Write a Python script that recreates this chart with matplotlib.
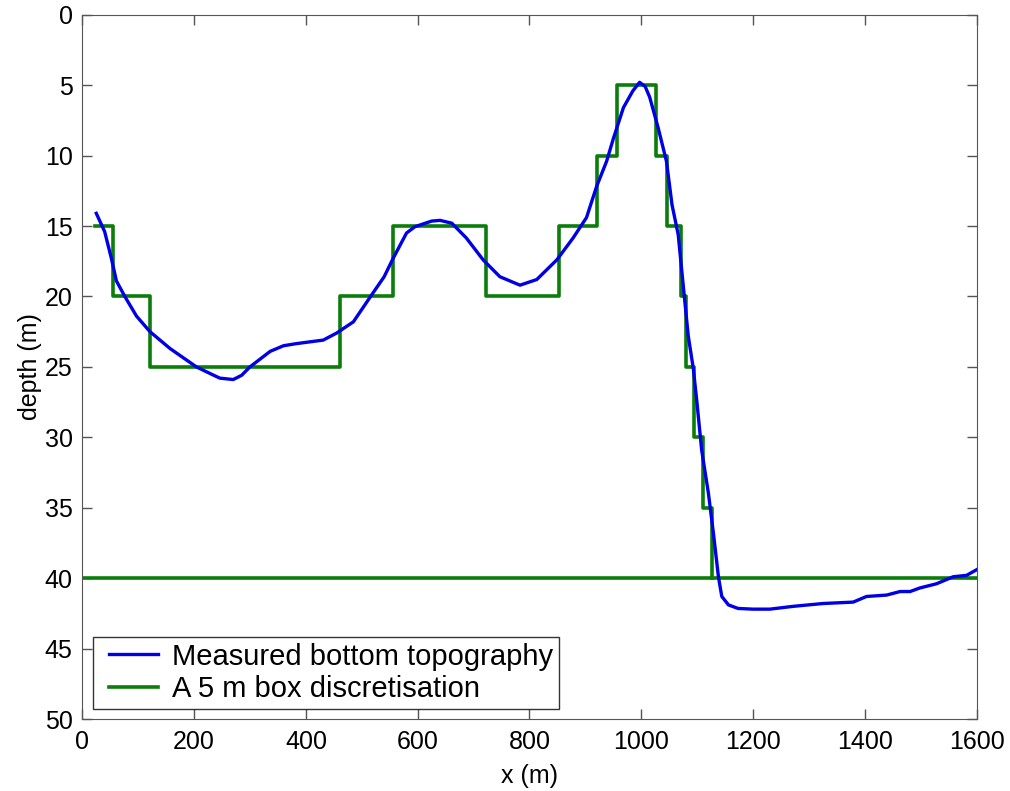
import numpy as np
import matplotlib
matplotlib.use("Agg")
from matplotlib import pyplot as plt
from matplotlib.legend_handler import HandlerLine2D

plt.rcParams['font.family'] = ['Liberation Sans', 'DejaVu Sans']

# measured bottom topography (x in m, depth in m)
topo_x = [25, 40, 52, 61, 76, 97, 121, 157, 204, 230, 246, 270, 285, 300, 336, 360,
          383, 431, 455, 485, 514, 540, 556, 580, 595, 610, 625, 640, 661, 687,
          717, 747, 783, 813, 849, 878, 902, 920, 938, 950, 968, 985, 997, 1007,
          1015, 1030, 1045, 1055, 1066, 1075, 1084, 1093, 1099, 1108, 1120, 1129,
          1138, 1144, 1156, 1173, 1200, 1230, 1272, 1325, 1379, 1403, 1439, 1463,
          1481, 1498, 1528, 1558, 1582, 1600]
topo_d = [14.1, 15.4, 17.3, 18.9, 20.0, 21.4, 22.5, 23.7, 25.0, 25.5, 25.8, 25.9,
          25.6, 25.0, 23.9, 23.5, 23.35, 23.1, 22.6, 21.8, 20.1, 18.6, 17.3, 15.5,
          15.05, 14.85, 14.65, 14.6, 14.8, 15.85, 17.4, 18.6, 19.2, 18.8, 17.4,
          15.85, 14.4, 12.2, 10.4, 8.8, 6.6, 5.4, 4.8, 5.1, 5.85, 8.0, 10.4, 13.5,
          15.6, 19.2, 22.8, 25.1, 27.3, 30.9, 33.95, 36.8, 39.9, 41.3, 41.9, 42.15,
          42.2, 42.2, 42.0, 41.8, 41.7, 41.3, 41.2, 40.95, 40.95, 40.7, 40.4, 39.9,
          39.8, 39.4]

# 5 m box discretisation: step edges and levels
box_edges = [22, 55, 121, 461, 555, 722, 853, 920, 957, 1026, 1046, 1071, 1080,
             1095, 1111, 1127]
box_levels = [15, 20, 25, 20, 15, 20, 15, 10, 5, 10, 15, 20, 25, 30, 35, 40]
bottom_x = [0, 1600]
bottom_d = [40, 40]

blue = '#0000e6'
green = '#0a7d0a'

fig = plt.figure(figsize=(10.1, 7.91), dpi=100)
ax = fig.add_axes([0.0815, 0.091, 0.8855, 0.8904])

l1, = ax.plot(topo_x, topo_d, color=blue, lw=2.4, label='Measured bottom topography',
              zorder=3)
l2, = ax.step(box_edges, box_levels, where='post', color=green, lw=2.6,
              label='A 5 m box discretisation', zorder=2)
ax.plot(bottom_x, bottom_d, color=green, lw=2.6, zorder=2)

ax.set_xlim(0, 1600)
ax.set_ylim(50, 0)
ax.set_xticks(np.arange(0, 1601, 200))
ax.set_yticks(np.arange(0, 51, 5))
ax.tick_params(direction='in', length=7, top=True, right=True, labelsize=18,
               color='#555555', width=1)
ax.tick_params(axis='x', pad=8)
ax.tick_params(axis='y', pad=7)
for s in ax.spines.values():
    s.set_color('#555555')
ax.set_xlabel('x (m)', fontsize=18, labelpad=7)
ax.set_ylabel('depth (m)', fontsize=18, labelpad=2)

hmap = {l1: HandlerLine2D(xpad=0.35), l2: HandlerLine2D(xpad=0.35)}
leg = ax.legend(handles=[l1, l2], handler_map=hmap, loc='lower left', fontsize=21,
                frameon=True, fancybox=False, edgecolor='black', handlelength=2.05,
                handletextpad=0.47, borderaxespad=0.35, borderpad=0.2,
                labelspacing=0.15)
leg.get_frame().set_linewidth(1.0)

fig.savefig('out.png', dpi=100)
